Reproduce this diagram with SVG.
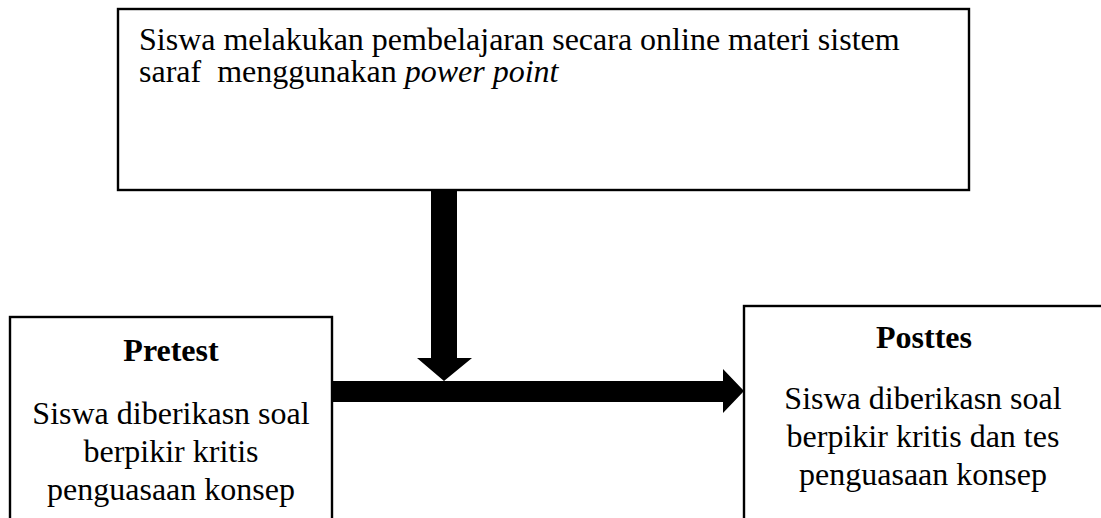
<svg xmlns="http://www.w3.org/2000/svg" width="1101" height="518" viewBox="0 0 1101 518">
<defs>
<style>
.box{fill:#fff;stroke:#000;stroke-width:2.4}
.arr{fill:#000;stroke:none}
</style>
</defs>
<rect width="1101" height="518" fill="#fff"/>
<g id="node-top">
<rect class="box" x="118" y="9" width="851" height="181"/>
<text x="139" y="50" font-family="Liberation Serif" font-size="32">Siswa melakukan pembelajaran secara online materi sistem</text>
<text x="139" y="82" font-family="Liberation Serif" font-size="32">saraf &#160;menggunakan <tspan font-style="italic">power point</tspan></text>
</g>
<g id="node-pretest">
<rect class="box" x="10" y="317" width="322" height="220"/>
<text x="171" y="361" font-family="Liberation Serif" font-size="32" font-weight="bold" text-anchor="middle">Pretest</text>
<text x="171" y="424" font-family="Liberation Serif" font-size="32" text-anchor="middle">Siswa diberikasn soal</text>
<text x="171" y="462" font-family="Liberation Serif" font-size="32" text-anchor="middle">berpikir kritis</text>
<text x="171" y="500" font-family="Liberation Serif" font-size="32" text-anchor="middle">penguasaan konsep</text>
</g>
<g id="node-posttes">
<rect class="box" x="744" y="306" width="400" height="230"/>
<text x="924" y="348" font-family="Liberation Serif" font-size="32" font-weight="bold" text-anchor="middle">Posttes</text>
<text x="923" y="409" font-family="Liberation Serif" font-size="32" text-anchor="middle">Siswa diberikasn soal</text>
<text x="923" y="447" font-family="Liberation Serif" font-size="32" text-anchor="middle">berpikir kritis dan tes</text>
<text x="923" y="485" font-family="Liberation Serif" font-size="32" text-anchor="middle">penguasaan konsep</text>
</g>
<g id="connectors">
<polygon class="arr" points="431,190 457,190 457,358 472,358 444,381 417,358 431,358"/>
<polygon class="arr" points="332,381 723,381 723,369 744,391 723,413 723,402 332,402"/>
</g>
</svg>
